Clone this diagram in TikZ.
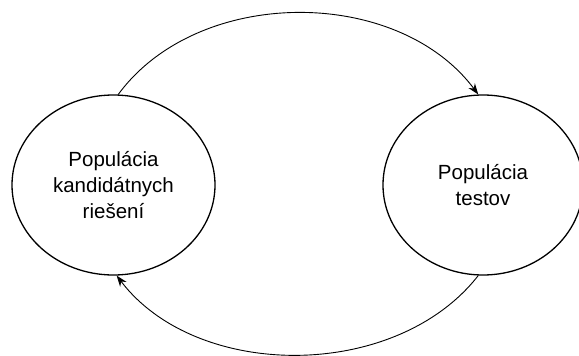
\documentclass[tikz,border=0pt]{standalone}
\usepackage{fontspec}
\setmainfont{Liberation Sans}
\usetikzlibrary{shapes.geometric,arrows.meta}
\begin{document}
\begin{tikzpicture}[x=1pt,y=-1pt,
  popnode/.style={draw, line width=1.3pt, ellipse, inner sep=0pt,
    minimum width=203pt, minimum height=180pt,
    align=center, font=\fontsize{20.5}{26}\selectfont},
  flow/.style={line width=0.9pt, -{Stealth[length=11pt,width=8pt]}}]
  \useasboundingbox (0,0) rectangle (579,356);
  \node[popnode] (cand) at (113.5,185) {Populácia\\kandidátnych\\riešení};
  \node[popnode, minimum width=200pt] (test) at (483,185) {Populácia\\testov};
  \draw[flow] (cand.87) .. controls (198,-14) and (397,-14) .. (test.93);
  \draw[flow] (test.267) .. controls (396,381) and (197,381) .. (cand.272);
\end{tikzpicture}
\end{document}
